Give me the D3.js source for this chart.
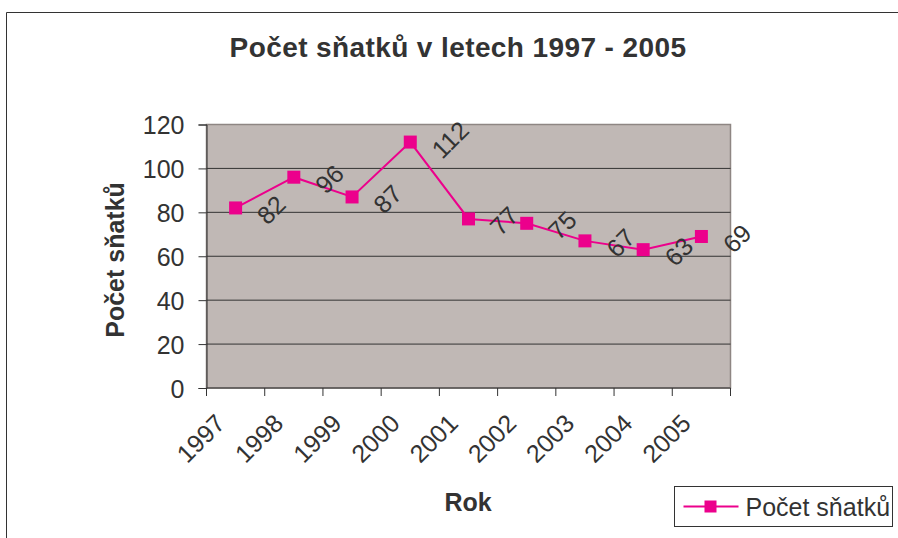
<!DOCTYPE html>
<html>
<head>
<meta charset="utf-8">
<script src="https://cdn.jsdelivr.net/npm/d3@7"></script>
<style>
  body { margin: 0; background: #fff; }
  text { font-family: "Liberation Sans", Arial, sans-serif; fill: #333; }
</style>
</head>
<body>
<div id="chart"></div>
<script>
// data
var years = ["1997", "1998", "1999", "2000", "2001", "2002", "2003", "2004", "2005"];
var marriages = [82, 96, 87, 112, 77, 75, 67, 63, 69];
var yTicks = [0, 20, 40, 60, 80, 100, 120];

var W = 898, H = 538;
var plot = {left: 206.5, right: 730.5, top: 124.5, bottom: 388};

var svg = d3.select("#chart").append("svg")
  .attr("width", W)
  .attr("height", H);

// outer frame
svg.append("path")
  .attr("d", "M6.5," + H + "V12.5H" + W)
  .attr("fill", "none")
  .attr("stroke", "#333")
  .attr("stroke-width", 1);

var x = d3.scaleBand().domain(years).range([plot.left, plot.right]);
var y = d3.scaleLinear().domain([0, 120]).range([plot.bottom, plot.top]);

// plot background
svg.append("rect")
  .attr("x", plot.left).attr("y", plot.top)
  .attr("width", plot.right - plot.left).attr("height", plot.bottom - plot.top)
  .attr("fill", "#c0b8b5")
  .attr("stroke", "#8e8683")
  .attr("stroke-width", 1.5);

// gridlines
svg.selectAll(".grid")
  .data(yTicks.filter(d => d > 0 && d < 120))
  .enter().append("line")
  .attr("x1", plot.left).attr("x2", plot.right)
  .attr("y1", d => y(d)).attr("y2", d => y(d))
  .attr("stroke", "#333").attr("stroke-width", 1);

// y axis
var yAxis = svg.append("g")
  .attr("transform", "translate(" + plot.left + ",0)")
  .call(d3.axisLeft(y).tickValues(yTicks).tickSize(8).tickPadding(14));
yAxis.select(".domain").attr("stroke", "#333");
yAxis.selectAll(".tick line").attr("stroke", "#333");
yAxis.selectAll(".tick text")
  .style("font-size", "25px")
  .attr("fill", "#333")
  .attr("dy", "0.36em");

// x axis: ticks at band boundaries
var xAxis = svg.append("g")
  .attr("transform", "translate(0," + plot.bottom + ")");
xAxis.append("line")
  .attr("x1", plot.left).attr("x2", plot.right)
  .attr("stroke", "#333");
var bounds = years.map(d => x(d)).concat([x(years[years.length - 1]) + x.bandwidth()]);
xAxis.selectAll(".tk")
  .data(bounds)
  .enter().append("line")
  .attr("x1", d => d).attr("x2", d => d)
  .attr("y1", 0).attr("y2", 8)
  .attr("stroke", "#333");
xAxis.selectAll(".lbl")
  .data(years)
  .enter().append("text")
  .attr("transform", d => "translate(" + (x(d) + x.bandwidth() / 2 - 9) + ",37) rotate(-45)")
  .attr("text-anchor", "end")
  .style("font-size", "25px")
  .text(d => d);

// line
var cx = d => x(d) + x.bandwidth() / 2;
var lineGen = d3.line()
  .x((d, i) => cx(years[i]))
  .y(d => y(d));

svg.append("path")
  .datum(marriages)
  .attr("d", lineGen)
  .attr("fill", "none")
  .attr("stroke", "#ec008c")
  .attr("stroke-width", 2);

svg.selectAll(".mk")
  .data(marriages)
  .enter().append("rect")
  .attr("x", (d, i) => cx(years[i]) - 6.5)
  .attr("y", d => y(d) - 6.5)
  .attr("width", 13).attr("height", 13)
  .attr("fill", "#ec008c");

// data labels
svg.selectAll(".dl")
  .data(marriages)
  .enter().append("text")
  .attr("transform", (d, i) => "translate(" + (cx(years[i]) + 32) + "," + (y(d) + 18) + ") rotate(-45)")
  .style("font-size", "25px")
  .text(d => d);

// titles
svg.append("text")
  .attr("x", 458).attr("y", 57)
  .attr("text-anchor", "middle")
  .style("font-size", "28px").style("font-weight", "bold")
  .style("letter-spacing", "0.4px")
  .text("Počet sňatků v letech 1997 - 2005");

svg.append("text")
  .attr("transform", "translate(124,260) rotate(-90)")
  .attr("text-anchor", "middle")
  .style("font-size", "25px").style("font-weight", "bold")
  .text("Počet sňatků");

svg.append("text")
  .attr("x", 468).attr("y", 511)
  .attr("text-anchor", "middle")
  .style("font-size", "25px").style("font-weight", "bold")
  .text("Rok");

// legend
var lg = svg.append("g").attr("transform", "translate(674.5,486.5)");
lg.append("rect")
  .attr("width", 218).attr("height", 40)
  .attr("fill", "#fff").attr("stroke", "#333");
lg.append("line")
  .attr("x1", 9).attr("x2", 64).attr("y1", 20).attr("y2", 20)
  .attr("stroke", "#ec008c").attr("stroke-width", 2);
lg.append("rect")
  .attr("x", 30).attr("y", 14).attr("width", 12).attr("height", 12)
  .attr("fill", "#ec008c");
lg.append("text")
  .attr("x", 71).attr("y", 29)
  .style("font-size", "25px")
  .text("Počet sňatků");
</script>
</body>
</html>
